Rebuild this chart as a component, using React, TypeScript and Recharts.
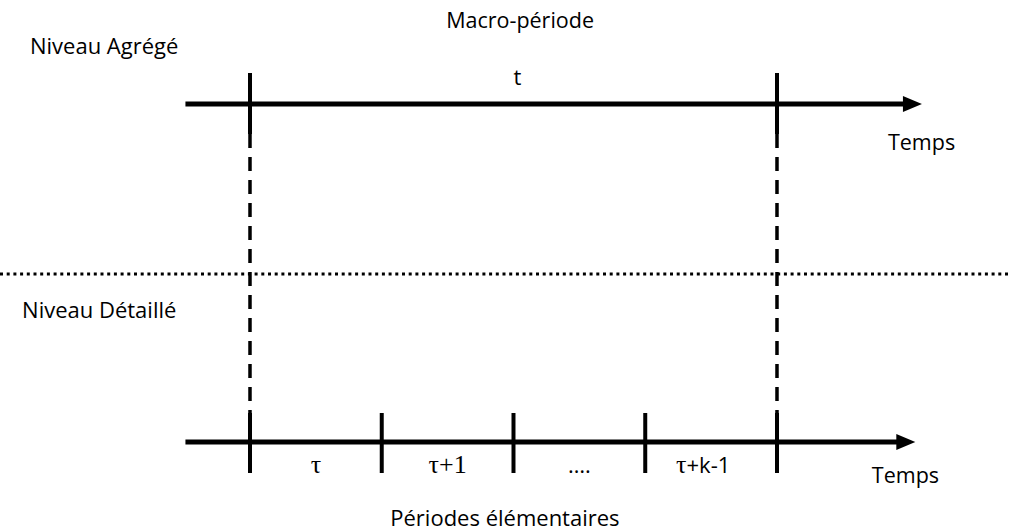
import { ComposedChart, XAxis, YAxis, ReferenceLine, ReferenceDot } from 'recharts';

// time in elementary periods: tau = 0 ... tau+k = 4
const boundaries = [0, 1, 2, 3, 4];
const periodLabels = ['τ', 'τ+1', '….', 'τ+k-1'];
const macroBounds = [0, 4];
const macroLabel = 't';

// vertical rows (page units, top = 0)
const rowAggregated = 104;
const rowSeparator = 274;
const rowDetailed = 442;

const axisStart = -0.49;
const tipTop = 5.1;
const tipBottom = 5.05;

const X_MIN = -1.8975;
const X_MAX = 5.761;
const W = 1009;
const H = 531;

const SANS = '"Open Sans", "Noto Sans", sans-serif';
const SERIF = '"Liberation Serif", "DejaVu Serif", serif';

const ArrowHead = (props: any) => {
  const { cx, cy } = props;
  return <path d={`M${cx},${cy} L${cx - 19},${cy - 8} L${cx - 19},${cy + 8} Z`} fill="#000" />;
};

const makeText = (text: string, anchor: string, family: string, size: number) => (props: any) => (
  <text x={props.cx} y={props.cy} textAnchor={anchor} fontFamily={family} fontSize={size} fill="#000">
    {text}
  </text>
);

const PeriodText = (label: string) => (props: any) => {
  const { cx, cy } = props;
  const m = label.match(/^τ(.*)$/);
  if (!m) {
    return (
      <text x={cx} y={cy} textAnchor="middle" fontFamily={SANS} fontSize={22} fill="#000">{label}</text>
    );
  }
  const rest = m[1];
  const serifRest = rest === '+1';
  return (
    <text x={cx} y={cy} textAnchor="middle" fill="#000" fontSize={26}>
      <tspan fontFamily={SERIF}>τ</tspan>
      {rest && <tspan fontFamily={serifRest ? SERIF : SANS} fontSize={serifRest ? 26 : 22}>{rest}</tspan>}
    </text>
  );
};

export default function App() {
  return (
    <div style={{ position: 'absolute', left: 0, top: 0, background: '#fff' }}>
      <ComposedChart width={W} height={H} margin={{ top: 0, right: 0, bottom: 0, left: 0 }}>
        <XAxis hide type="number" dataKey="x" domain={[X_MIN, X_MAX]} allowDataOverflow />
        <YAxis hide type="number" domain={[0, H]} reversed allowDataOverflow />

        {/* dotted separator between levels */}
        <ReferenceLine y={rowSeparator} stroke="#000" strokeWidth={3} strokeDasharray="3 3.7" />

        {/* dashed projections of macro-period bounds */}
        {macroBounds.map((b) => (
          <ReferenceLine key={`d${b}`} segment={[{ x: b, y: 134 }, { x: b, y: 413 }]} stroke="#000" strokeWidth={3.5} strokeDasharray="14 9" />
        ))}

        {/* time axes */}
        <ReferenceLine segment={[{ x: axisStart, y: rowAggregated }, { x: tipTop - 0.1, y: rowAggregated }]} stroke="#000" strokeWidth={5} />
        <ReferenceLine segment={[{ x: axisStart, y: rowDetailed }, { x: tipBottom - 0.1, y: rowDetailed }]} stroke="#000" strokeWidth={5} />
        <ReferenceDot x={tipTop} y={rowAggregated} shape={ArrowHead} />
        <ReferenceDot x={tipBottom} y={rowDetailed} shape={ArrowHead} />

        {/* ticks */}
        {macroBounds.map((b) => (
          <ReferenceLine key={`t${b}`} segment={[{ x: b, y: 73 }, { x: b, y: 134 }]} stroke="#000" strokeWidth={4} />
        ))}
        {boundaries.map((b) => (
          <ReferenceLine key={`b${b}`} segment={[{ x: b, y: 413 }, { x: b, y: 473 }]} stroke="#000" strokeWidth={4} />
        ))}

        {/* period labels */}
        {periodLabels.map((l, i) => (
          <ReferenceDot key={l} x={boundaries[i] + (i === 3 ? 0.44 : 0.5)} y={473} shape={PeriodText(l)} />
        ))}
        <ReferenceDot x={(macroBounds[0] + macroBounds[1]) / 2 + 0.03} y={85} shape={makeText(macroLabel, 'middle', SANS, 22)} />

        {/* text */}
        <ReferenceDot x={2.05} y={28} shape={makeText('Macro-période', 'middle', SANS, 21.5)} />
        <ReferenceDot x={-1.67} y={54} shape={makeText('Niveau Agrégé', 'start', SANS, 22)} />
        <ReferenceDot x={4.842} y={150} shape={makeText('Temps', 'start', SANS, 21.5)} />
        <ReferenceDot x={-1.73} y={318} shape={makeText('Niveau Détaillé', 'start', SANS, 22)} />
        <ReferenceDot x={4.72} y={483} shape={makeText('Temps', 'start', SANS, 21.5)} />
        <ReferenceDot x={1.935} y={526} shape={makeText('Périodes élémentaires', 'middle', SANS, 22)} />
      </ComposedChart>
    </div>
  );
}
